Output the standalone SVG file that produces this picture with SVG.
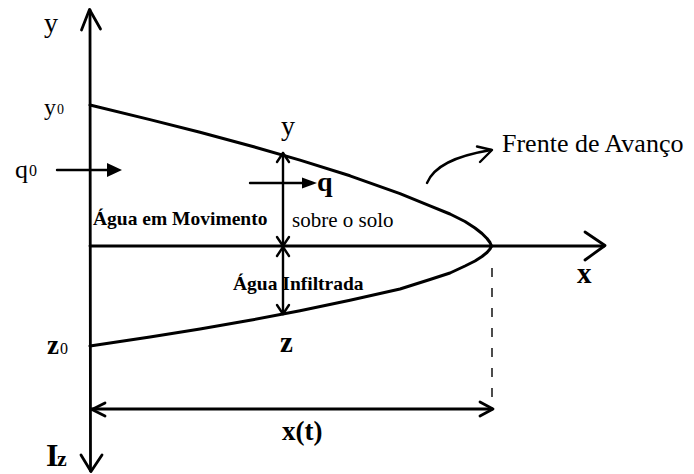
<svg xmlns="http://www.w3.org/2000/svg" width="694" height="474" viewBox="0 0 694 474">
<style>
.ln{fill:none;stroke:#000;stroke-width:2.8;stroke-linecap:round;stroke-linejoin:round}
.cv{fill:none;stroke:#000;stroke-width:3;stroke-linejoin:round;stroke-linecap:round}
.ah{fill:none;stroke:#000;stroke-width:2.8;stroke-linecap:round;stroke-linejoin:round}
.sa{fill:none;stroke:#000;stroke-width:2.4;stroke-linecap:round;stroke-linejoin:round}
.tri{fill:#000;stroke:none}
.dash{fill:none;stroke:#000;stroke-width:1.4;stroke-dasharray:9 11}
text{font-family:"Liberation Serif","Times New Roman",serif;fill:#000}
.b{font-weight:bold}
</style>
<rect width="694" height="474" fill="#fff"/>
<g id="connectors">
  <line class="ln" x1="90" y1="10" x2="90.5" y2="471"/>
  <path class="ah" d="M81.5,30 L89.5,9.5 L100.5,29"/>
  <path class="ah" d="M81,455 L91,471.5 L102,455"/>
  <line class="ln" x1="90" y1="246" x2="604" y2="246"/>
  <path class="ah" d="M585,232 L605,245.5 L585,260"/>
  <polyline class="cv" points="90,105 150,119.6 200,132.3 250,145.7 300,160.1 350,175.8 400,193.6 430,205.8 450,214 465,221.5 475,228 482,233.5 487,238.5 490,242.5 491.5,246"/>
  <polyline class="cv" points="90,346 150,337 200,329 250,320.3 300,310.8 350,300.3 400,289 430,279.5 450,273 465,266 475,261 482,256.5 487,252.5 490,249 491.5,246"/>
  <line class="dash" x1="492" y1="268" x2="492" y2="406"/>
  <line class="ln" x1="92" y1="409" x2="492" y2="409"/>
  <path class="ah" d="M105,403 L92,409.5 L105,416"/>
  <path class="ah" d="M480,402 L493,409 L480,416"/>
  <line class="sa" x1="283" y1="153" x2="283" y2="314"/>
  <path class="sa" d="M277,162 L283,153 L289,162"/>
  <path class="sa" d="M277,237 L283,246 L289,237"/>
  <path class="sa" d="M277,256 L283,247 L289,256"/>
  <path class="sa" d="M277,305 L283,314 L289,305"/>
  <line class="sa" x1="250" y1="183" x2="305" y2="183"/>
  <polygon class="tri" points="302,177.5 317,183 302,188.5"/>
  <line class="sa" x1="57" y1="170" x2="110" y2="170"/>
  <polygon class="tri" points="107,163 122,170 107,177"/>
  <path class="sa" d="M427,183 C434,166 455,156 491,150"/>
  <path class="sa" d="M477,146.5 L492,150 L480,162"/>
</g>
<g id="label-y"><text x="44" y="32" font-size="28">y</text></g>
<g id="label-y0"><text x="44" y="115" font-size="24">y</text><text x="57" y="114" font-size="14">0</text></g>
<g id="label-q0"><text x="15" y="178" font-size="26">q</text><text x="29" y="176" font-size="16">0</text></g>
<g id="label-z0"><text class="b" x="47" y="354" font-size="27">z</text><text x="60" y="354" font-size="16">0</text></g>
<g id="label-Iz"><text class="b" x="46" y="466" font-size="32">I</text><text class="b" x="57" y="466" font-size="22">z</text></g>
<g id="label-y-mid"><text x="281" y="135" font-size="28">y</text></g>
<g id="label-q"><text class="b" x="317" y="191" font-size="28">q</text></g>
<g id="label-agua-mov"><text class="b" x="93" y="225" font-size="19.5">Água em Movimento</text></g>
<g id="label-sobre"><text x="292" y="227" font-size="21">sobre o solo</text></g>
<g id="label-agua-inf"><text class="b" x="233" y="290" font-size="19.5">Água Infiltrada</text></g>
<g id="label-x"><text class="b" x="577" y="283" font-size="29">x</text></g>
<g id="label-z"><text class="b" x="280" y="352" font-size="29">z</text></g>
<g id="label-xt"><text class="b" x="282" y="440" font-size="27">x(t)</text></g>
<g id="label-frente"><text x="502" y="152" font-size="26">Frente de Avanço</text></g>
</svg>
